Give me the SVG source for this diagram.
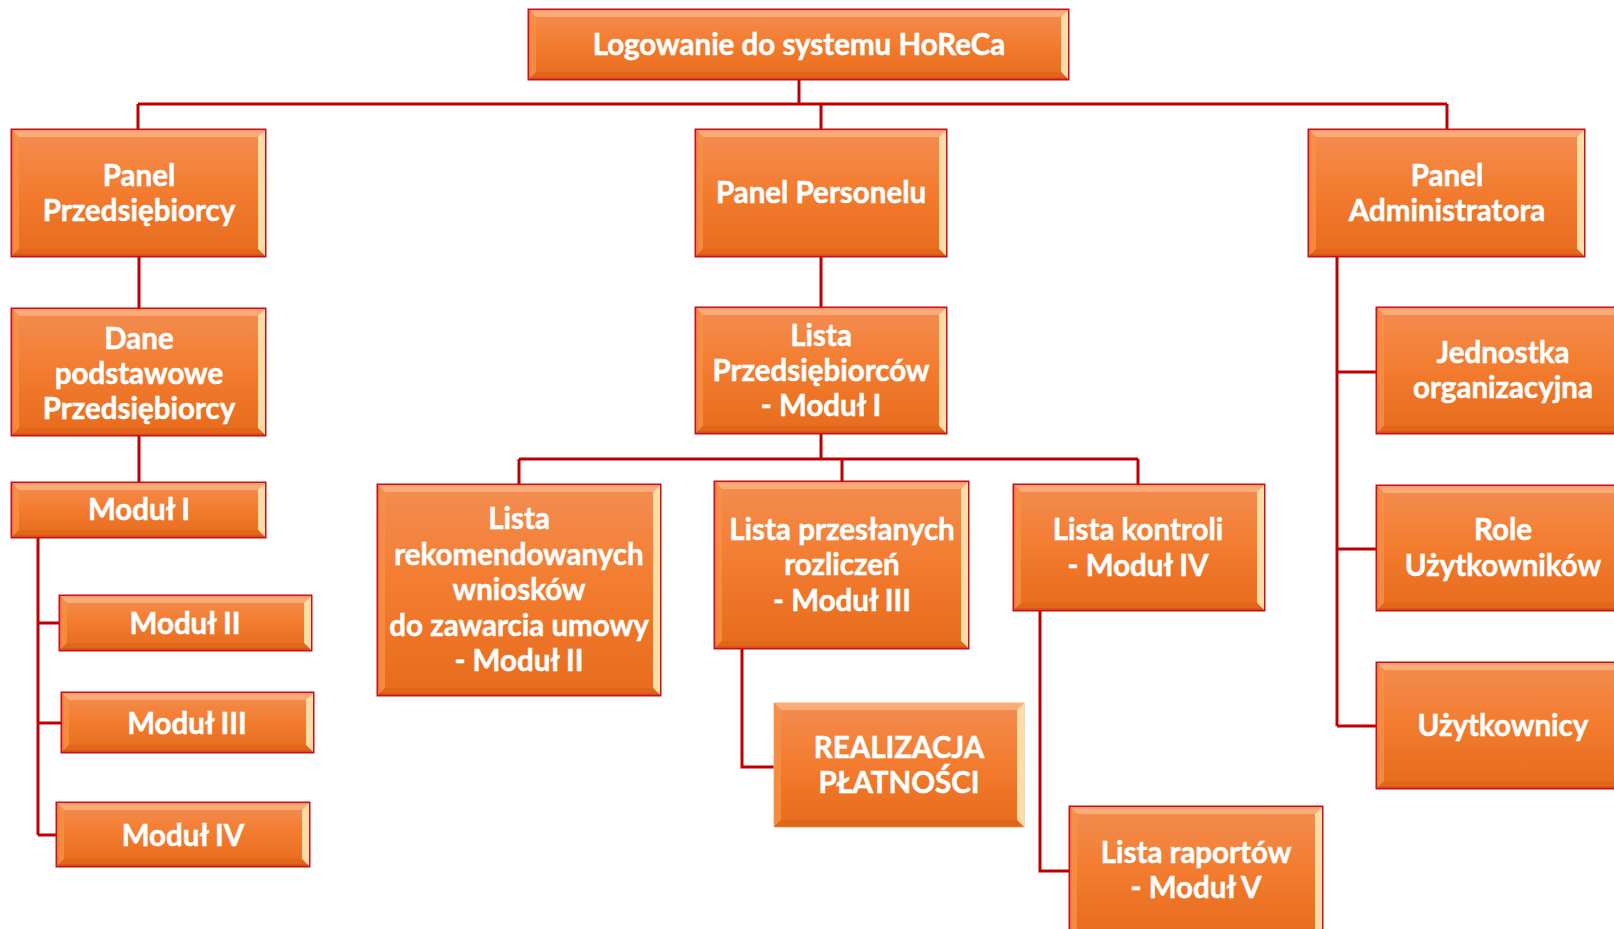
<svg xmlns="http://www.w3.org/2000/svg" width="1614" height="929" viewBox="0 0 1614 929">
<defs>
<linearGradient id="g" x1="0" y1="0" x2="0" y2="1">
<stop offset="0" stop-color="#F38D52"/>
<stop offset="0.45" stop-color="#F37D31"/>
<stop offset="1" stop-color="#E76B1C"/>
</linearGradient>
<style>
.box{fill:url(#g);stroke:#C8101A;stroke-width:3}
.nb{fill:url(#g);stroke:#F5B080;stroke-width:1}
.bt{fill:#F9B27E;opacity:0.85}
.br{fill:#FDDCA8}
.bl{fill:#F79045;opacity:0.8}
.bb{fill:#DE6418;opacity:0.7}
.t{font-family:Lato,"Open Sans","Liberation Sans",sans-serif;font-weight:bold;font-size:29.5px;fill:#FFFFFF;stroke:#FFFFFF;stroke-width:0.5;text-anchor:middle}
.c{fill:none;stroke:#C00000;stroke-width:3}
</style>
</defs>
<g id="connectors" class="c">
<path d="M799,79 V104"/>
<path d="M138,104 H1447"/>
<path d="M138,104 V130 M821,104 V130 M1447,104 V130"/>
<path d="M139,256 V309 M139,435 V483"/>
<path d="M38,537 V835 M38,623 H60 M38,723 H62 M38,835 H57"/>
<path d="M821,256 V308"/>
<path d="M821,433 V459 M519,459 H1138 M519,459 V485 M842,459 V482 M1138,459 V485"/>
<path d="M742,648 V767 H774"/>
<path d="M1040,610 V871 H1070"/>
<path d="M1337,256 V726 M1337,372 H1377 M1337,549 H1377 M1337,726 H1377"/>
</g>
<g id="n-top">
<g transform="translate(529,10)"><rect class="box" width="539" height="69"/>
<polygon class="bt" points="0,0 539,0 532,7 7,7"/><polygon class="br" points="539,0 539,69 532,62 532,7"/><polygon class="bl" points="0,0 7,7 7,62 0,69"/><polygon class="bb" points="0,69 7,62 532,62 539,69"/></g>
<text class="t" x="799" y="55">Logowanie do systemu HoReCa</text>
</g>
<g id="n-panel-przed">
<g transform="translate(12,130)"><rect class="box" width="253" height="126"/>
<polygon class="bt" points="0,0 253,0 246,7 7,7"/><polygon class="br" points="253,0 253,126 246,119 246,7"/><polygon class="bl" points="0,0 7,7 7,119 0,126"/><polygon class="bb" points="0,126 7,119 246,119 253,126"/></g>
<text class="t" x="139" y="186">Panel</text>
<text class="t" x="139" y="221">Przedsiębiorcy</text>
</g>
<g id="n-panel-pers">
<g transform="translate(696,130)"><rect class="box" width="250" height="126"/>
<polygon class="bt" points="0,0 250,0 243,7 7,7"/><polygon class="br" points="250,0 250,126 243,119 243,7"/><polygon class="bl" points="0,0 7,7 7,119 0,126"/><polygon class="bb" points="0,126 7,119 243,119 250,126"/></g>
<text class="t" x="821" y="203">Panel Personelu</text>
</g>
<g id="n-panel-adm">
<g transform="translate(1309,130)"><rect class="box" width="275" height="126"/>
<polygon class="bt" points="0,0 275,0 268,7 7,7"/><polygon class="br" points="275,0 275,126 268,119 268,7"/><polygon class="bl" points="0,0 7,7 7,119 0,126"/><polygon class="bb" points="0,126 7,119 268,119 275,126"/></g>
<text class="t" x="1447" y="186">Panel</text>
<text class="t" x="1447" y="221">Administratora</text>
</g>
<g id="n-dane">
<g transform="translate(12,309)"><rect class="box" width="253" height="126"/>
<polygon class="bt" points="0,0 253,0 246,7 7,7"/><polygon class="br" points="253,0 253,126 246,119 246,7"/><polygon class="bl" points="0,0 7,7 7,119 0,126"/><polygon class="bb" points="0,126 7,119 246,119 253,126"/></g>
<text class="t" x="139" y="349">Dane</text>
<text class="t" x="139" y="384">podstawowe</text>
<text class="t" x="139" y="419">Przedsiębiorcy</text>
</g>
<g id="n-m1">
<g transform="translate(12,483)"><rect class="box" width="253" height="54"/>
<polygon class="bt" points="0,0 253,0 246,7 7,7"/><polygon class="br" points="253,0 253,54 246,47 246,7"/><polygon class="bl" points="0,0 7,7 7,47 0,54"/><polygon class="bb" points="0,54 7,47 246,47 253,54"/></g>
<text class="t" x="139" y="520">Moduł I</text>
</g>
<g id="n-m2">
<g transform="translate(60,596)"><rect class="box" width="251" height="54"/>
<polygon class="bt" points="0,0 251,0 244,7 7,7"/><polygon class="br" points="251,0 251,54 244,47 244,7"/><polygon class="bl" points="0,0 7,7 7,47 0,54"/><polygon class="bb" points="0,54 7,47 244,47 251,54"/></g>
<text class="t" x="185" y="634">Moduł II</text>
</g>
<g id="n-m3">
<g transform="translate(62,693)"><rect class="box" width="251" height="59"/>
<polygon class="bt" points="0,0 251,0 244,7 7,7"/><polygon class="br" points="251,0 251,59 244,52 244,7"/><polygon class="bl" points="0,0 7,7 7,52 0,59"/><polygon class="bb" points="0,59 7,52 244,52 251,59"/></g>
<text class="t" x="187" y="734">Moduł III</text>
</g>
<g id="n-m4">
<g transform="translate(57,803)"><rect class="box" width="252" height="63"/>
<polygon class="bt" points="0,0 252,0 245,7 7,7"/><polygon class="br" points="252,0 252,63 245,56 245,7"/><polygon class="bl" points="0,0 7,7 7,56 0,63"/><polygon class="bb" points="0,63 7,56 245,56 252,63"/></g>
<text class="t" x="183" y="846">Moduł IV</text>
</g>
<g id="n-lista-przed">
<g transform="translate(696,308)"><rect class="box" width="250" height="125"/>
<polygon class="bt" points="0,0 250,0 243,7 7,7"/><polygon class="br" points="250,0 250,125 243,118 243,7"/><polygon class="bl" points="0,0 7,7 7,118 0,125"/><polygon class="bb" points="0,125 7,118 243,118 250,125"/></g>
<text class="t" x="821" y="346">Lista</text>
<text class="t" x="821" y="381">Przedsiębiorców</text>
<text class="t" x="821" y="416">- Moduł I</text>
</g>
<g id="n-lista-rek">
<g transform="translate(378,485)"><rect class="box" width="282" height="210"/>
<polygon class="bt" points="0,0 282,0 275,7 7,7"/><polygon class="br" points="282,0 282,210 275,203 275,7"/><polygon class="bl" points="0,0 7,7 7,203 0,210"/><polygon class="bb" points="0,210 7,203 275,203 282,210"/></g>
<text class="t" x="519" y="529">Lista</text>
<text class="t" x="519" y="565">rekomendowanych</text>
<text class="t" x="519" y="600">wniosków</text>
<text class="t" x="519" y="636">do zawarcia umowy</text>
<text class="t" x="519" y="671">- Moduł II</text>
</g>
<g id="n-lista-przes">
<g transform="translate(715,482)"><rect class="box" width="253" height="166"/>
<polygon class="bt" points="0,0 253,0 246,7 7,7"/><polygon class="br" points="253,0 253,166 246,159 246,7"/><polygon class="bl" points="0,0 7,7 7,159 0,166"/><polygon class="bb" points="0,166 7,159 246,159 253,166"/></g>
<text class="t" x="842" y="540">Lista przesłanych</text>
<text class="t" x="842" y="575">rozliczeń</text>
<text class="t" x="842" y="611">- Moduł III</text>
</g>
<g id="n-lista-kon">
<g transform="translate(1014,485)"><rect class="box" width="250" height="125"/>
<polygon class="bt" points="0,0 250,0 243,7 7,7"/><polygon class="br" points="250,0 250,125 243,118 243,7"/><polygon class="bl" points="0,0 7,7 7,118 0,125"/><polygon class="bb" points="0,125 7,118 243,118 250,125"/></g>
<text class="t" x="1138" y="540">Lista kontroli</text>
<text class="t" x="1138" y="576">- Moduł IV</text>
</g>
<g id="n-realizacja">
<g transform="translate(774,703)"><rect class="nb" width="250" height="124"/>
<polygon class="bt" points="0,0 250,0 243,7 7,7"/><polygon class="br" points="250,0 250,124 243,117 243,7"/><polygon class="bl" points="0,0 7,7 7,117 0,124"/><polygon class="bb" points="0,124 7,117 243,117 250,124"/></g>
<text class="t" x="899" y="758">REALIZACJA</text>
<text class="t" x="899" y="793">PŁATNOŚCI</text>
</g>
<g id="n-lista-rap">
<g transform="translate(1070,807)"><rect class="box" width="252" height="130"/>
<polygon class="bt" points="0,0 252,0 245,7 7,7"/><polygon class="br" points="252,0 252,130 245,123 245,7"/><polygon class="bl" points="0,0 7,7 7,123 0,130"/></g>
<text class="t" x="1196" y="863">Lista raportów</text>
<text class="t" x="1196" y="898">- Moduł V</text>
</g>
<g id="n-jedn">
<g transform="translate(1377,308)"><rect class="box" width="250" height="125"/>
<polygon class="bt" points="0,0 250,0 243,7 7,7"/><polygon class="bl" points="0,0 7,7 7,118 0,125"/><polygon class="bb" points="0,125 7,118 243,118 250,125"/></g>
<text class="t" x="1503" y="363">Jednostka</text>
<text class="t" x="1503" y="398">organizacyjna</text>
</g>
<g id="n-role">
<g transform="translate(1377,486)"><rect class="box" width="250" height="124"/>
<polygon class="bt" points="0,0 250,0 243,7 7,7"/><polygon class="bl" points="0,0 7,7 7,117 0,124"/><polygon class="bb" points="0,124 7,117 243,117 250,124"/></g>
<text class="t" x="1503" y="540">Role</text>
<text class="t" x="1503" y="576">Użytkowników</text>
</g>
<g id="n-uzyt">
<g transform="translate(1377,663)"><rect class="box" width="250" height="125"/>
<polygon class="bt" points="0,0 250,0 243,7 7,7"/><polygon class="bl" points="0,0 7,7 7,118 0,125"/><polygon class="bb" points="0,125 7,118 243,118 250,125"/></g>
<text class="t" x="1503" y="736">Użytkownicy</text>
</g>
</svg>
